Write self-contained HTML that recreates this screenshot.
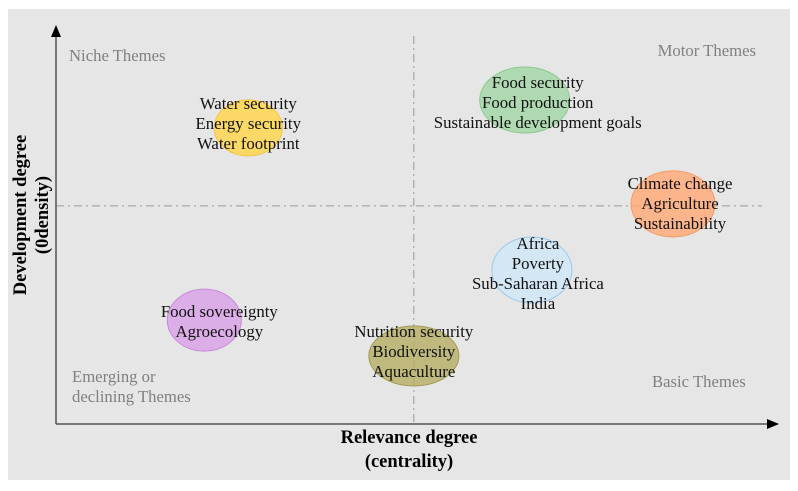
<!DOCTYPE html>
<html><head><meta charset="utf-8"><style>
body{margin:0;background:#fff;}
svg text{font-family:"Liberation Serif",serif;}
</style></head><body>
<svg id="chart" width="798" height="486" xmlns="http://www.w3.org/2000/svg">
<rect x="8" y="9" width="782" height="471" fill="#e6e6e6"/>
<g id="bubbles"></g>
<line x1="56" y1="424" x2="56" y2="36" stroke="#555" stroke-width="1.5"/>
<polygon points="56,25 51,37 61,37" fill="#000"/>
<line x1="56" y1="424" x2="768" y2="424" stroke="#555" stroke-width="1.5"/>
<polygon points="779,424 767,419 767,429" fill="#000"/>
<text x="69" y="61" font-size="16.7" fill="#808080">Niche Themes</text>
<text x="756" y="56" font-size="16.7" fill="#808080" text-anchor="end">Motor Themes</text>
<text x="72" y="382" font-size="16.7" fill="#808080"><tspan x="72">Emerging or</tspan><tspan x="72" dy="20">declining Themes</tspan></text>
<text x="652" y="387" font-size="16.7" fill="#808080">Basic Themes</text>
<text x="409" y="443" font-size="18.5" font-weight="bold" text-anchor="middle"><tspan x="409">Relevance degree</tspan><tspan x="409" dy="24">(centrality)</tspan></text>
<text transform="translate(26,215) rotate(-90)" font-size="18.5" font-weight="bold" text-anchor="middle"><tspan x="0">Development degree</tspan><tspan x="0" dy="22">(0density)</tspan></text>
<g id="labels"></g>
</svg>
<script>
const themes = [["Water security","Energy security","Water footprint"],["Food security","Food production","Sustainable development goals"],["Climate change","Agriculture","Sustainability"],["Africa","Poverty","Sub-Saharan Africa","India"],["Food sovereignty","Agroecology"],["Nutrition security","Biodiversity","Aquaculture"]];
const centrality = [26.7, 65.1, 85.7, 66.1, 20.6, 49.7];
const density = [74.4, 81.4, 55.3, 38.7, 26.1, 17.1];
const colors = ["#ffd54f","#a5d6a7","#ffab7a","#cfe6f7","#d9a3e6","#b8b06a"];
const strokes = ["#f5c542","#8cc98f","#f59a66","#9cc8ec","#c98ad9","#a39b55"];
const medianX = 49.7, medianY = 54.8;
const sx = v => 56 + v * 7.2;
const sy = v => 424 - v * 3.98;
const labelDx=[0,13,7,6,15,0], labelDy=[-5,2,-1,3,1,-5];
const ns = "http://www.w3.org/2000/svg";
const bg = document.getElementById('bubbles'), lg = document.getElementById('labels');
const vl = document.createElementNS(ns,'line');
vl.setAttribute('x1',sx(medianX));vl.setAttribute('x2',sx(medianX));vl.setAttribute('y1',36);vl.setAttribute('y2',424);
vl.setAttribute('stroke','#999');vl.setAttribute('stroke-dasharray','8,4,2,4');


bg.appendChild(vl);
const hl = document.createElementNS(ns,'line');
hl.setAttribute('x1',56);hl.setAttribute('x2',762);hl.setAttribute('y1',sy(medianY));hl.setAttribute('y2',sy(medianY));
hl.setAttribute('stroke','#999');hl.setAttribute('stroke-dasharray','8,4,2,4');


bg.appendChild(hl);
const rxs=[34,45,42,40,37,45], rys=[28,33,33,33,31,30];
themes.forEach((t,i)=>{
  const cx=sx(centrality[i]), cy=sy(density[i]);
  const e=document.createElementNS(ns,'ellipse');
  e.setAttribute('cx',cx);e.setAttribute('cy',cy);e.setAttribute('rx',rxs[i]);e.setAttribute('ry',rys[i]);
  e.setAttribute('fill',colors[i]);e.setAttribute('fill-opacity','0.85');e.setAttribute('stroke',strokes[i]);
  
  
  bg.appendChild(e);
  const tx=document.createElementNS(ns,'text');
  tx.setAttribute('font-size','16.8');tx.setAttribute('text-anchor','middle');tx.setAttribute('fill','#111');
  
  
  const lx = cx + labelDx[i];
  const y0 = cy + labelDy[i] - (t.length-1)*10 + 6;
  t.forEach((s,j)=>{
    const sp=document.createElementNS(ns,'tspan');
    sp.setAttribute('x',lx);sp.setAttribute('y',y0+j*20);sp.textContent=s;tx.appendChild(sp);
  });
  lg.appendChild(tx);
});
</script>
</body></html>
